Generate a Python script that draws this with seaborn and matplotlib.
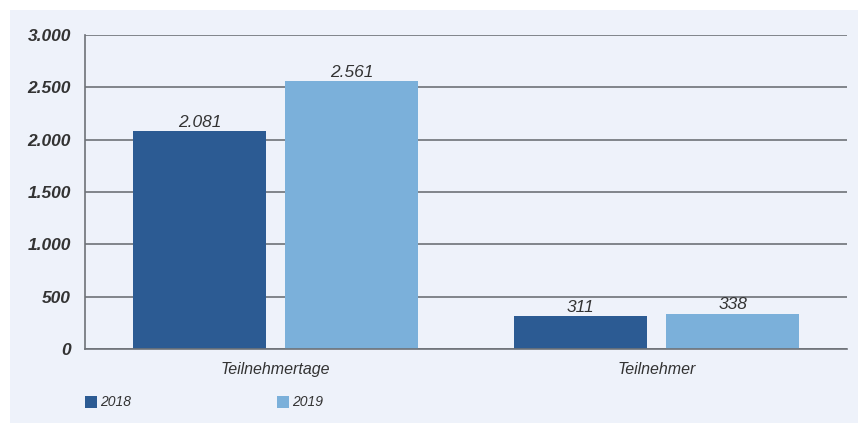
import matplotlib
matplotlib.use('Agg')
import matplotlib.pyplot as plt
import pandas as pd
import seaborn as sns
from matplotlib.patches import Rectangle
from matplotlib.ticker import FuncFormatter

# Daten
kategorien = ['Teilnehmertage', 'Teilnehmer']
jahre = ['2018', '2019']
werte_2018 = [2081, 311]
werte_2019 = [2561, 338]
y_ticks = [0, 500, 1000, 1500, 2000, 2500, 3000]

df = pd.DataFrame({
    'Kategorie': kategorien * 2,
    'Jahr': [jahre[0]] * 2 + [jahre[1]] * 2,
    'Wert': werte_2018 + werte_2019,
})

farben = {'2018': '#2C5B93', '2019': '#7BB0DA'}
panel = '#EEF2FA'
grau = '#6E7278'
text = '#333333'

sns.set_style('white')
plt.rcParams['font.family'] = ['Liberation Sans', 'DejaVu Sans']

fig = plt.figure(figsize=(8.58, 4.23), dpi=100)
fig.patches.append(Rectangle((10 / 858, 0), 1, 1 - 10 / 423, transform=fig.transFigure,
                             facecolor=panel, edgecolor='none', zorder=-1))
ax = fig.add_axes([85 / 858, (423 - 349) / 423, (847 - 85) / 858, (349 - 35) / 423])
ax.set_facecolor(panel)

sns.barplot(data=df, x='Kategorie', y='Wert', hue='Jahr', order=kategorien,
            hue_order=jahre, palette=farben, width=0.8, gap=0.13,
            saturation=1, linewidth=0, ax=ax, legend=False, zorder=3)

ax.set_xlim(-0.5, 1.5)
ax.set_ylim(0, 3000)
ax.set_yticks(y_ticks)
ax.yaxis.set_major_formatter(FuncFormatter(lambda v, p: f'{int(v):,}'.replace(',', '.')))
ax.grid(axis='y', color=grau, linewidth=1.2, zorder=0)
ax.set_axisbelow(True)

for s in ['top', 'right']:
    ax.spines[s].set_visible(False)
for s in ['left', 'bottom']:
    ax.spines[s].set_color(grau)
    ax.spines[s].set_linewidth(1.2)
ax.spines['bottom'].set_zorder(4)

ax.tick_params(axis='y', length=0, pad=10, labelsize=12.5, labelcolor=text)
for lbl in ax.get_yticklabels():
    lbl.set_fontstyle('italic')
    lbl.set_fontweight('bold')

# Kategorie-Trennstriche
ax.set_xticks([0.5, 1.5])
ax.set_xticklabels(['', ''])
ax.tick_params(axis='x', direction='in', length=5, color=grau, width=1.2)
ax.set_xlabel('')
ax.set_ylabel('')
for i, k in enumerate(kategorien):
    ax.text(i, -0.065, k, transform=ax.get_xaxis_transform(), ha='center', va='center',
            fontsize=11.5, fontstyle='italic', color=text)

for cont in ax.containers:
    ax.bar_label(cont, labels=[f'{int(v):,}'.replace(',', '.') for v in cont.datavalues],
                 padding=1, fontsize=12.5, fontstyle='italic', color=text)

# Legende
for j, jahr in enumerate(jahre):
    x0 = [85, 277][j] / 858
    fig.patches.append(Rectangle((x0, (423 - 408) / 423), 12 / 858, 12 / 423,
                                 transform=fig.transFigure, facecolor=farben[jahr],
                                 edgecolor='none'))
    fig.text(x0 + 15 / 858, (423 - 402) / 423, jahr, ha='left', va='center',
             fontsize=10, fontstyle='italic', color=text)

plt.savefig('out.png', dpi=100)
